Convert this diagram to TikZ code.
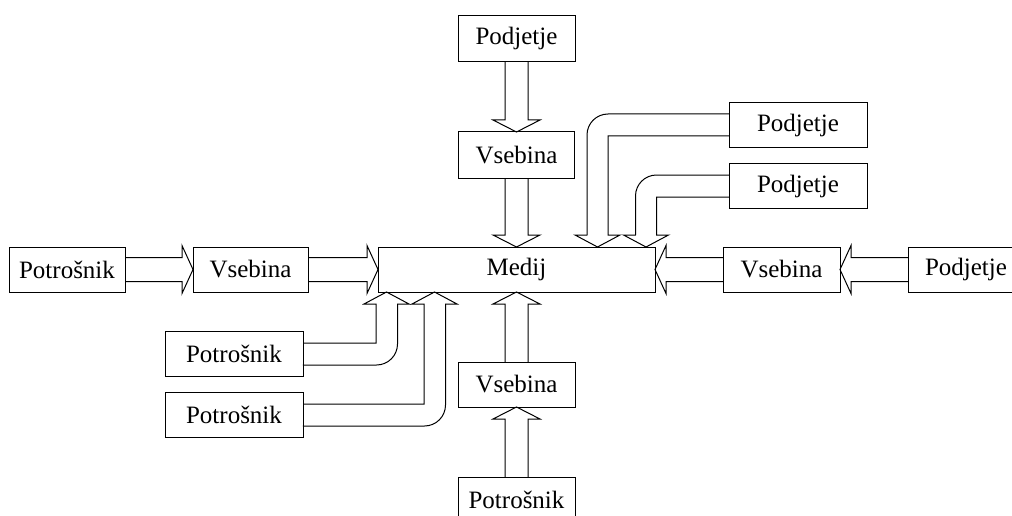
\documentclass[tikz,border=0pt]{standalone}
\usepackage{fontspec}
\setmainfont{Liberation Serif}
\usetikzlibrary{calc}
\tikzset{
  box/.style={draw, line width=1pt, fill=white, inner sep=0pt, outer sep=0pt,
    minimum height=46pt, font=\fontsize{25}{30}\selectfont},
  barrow/.style={draw, line width=1pt, line join=miter},
  bround/.style={draw, line width=1pt, line cap=round, rounded corners=21pt}
}
% straight block arrows: #1 source node, #2 target node
\newcommand\arrR[2]{\draw[barrow] ($(#1.east)+(0,-12)$) -- ($(#2.west)+(-11,-12)$) -- ($(#2.west)+(-11,-24)$) -- (#2.west) -- ($(#2.west)+(-11,24)$) -- ($(#2.west)+(-11,12)$) -- ($(#1.east)+(0,12)$);}
\newcommand\arrL[2]{\draw[barrow] ($(#1.west)+(0,-12)$) -- ($(#2.east)+(11,-12)$) -- ($(#2.east)+(11,-24)$) -- (#2.east) -- ($(#2.east)+(11,24)$) -- ($(#2.east)+(11,12)$) -- ($(#1.west)+(0,12)$);}
\newcommand\arrD[2]{\draw[barrow] ($(#1.south)+(-11.5,0)$) -- ($(#2.north)+(-11.5,-12)$) -- ($(#2.north)+(-23.5,-12)$) -- (#2.north) -- ($(#2.north)+(23.5,-12)$) -- ($(#2.north)+(11.5,-12)$) -- ($(#1.south)+(11.5,0)$);}
\newcommand\arrU[2]{\draw[barrow] ($(#1.north)+(-11.5,0)$) -- ($(#2.south)+(-11.5,12)$) -- ($(#2.south)+(-23.5,12)$) -- (#2.south) -- ($(#2.south)+(23.5,12)$) -- ($(#2.south)+(11.5,12)$) -- ($(#1.north)+(11.5,0)$);}
\begin{document}
\begin{tikzpicture}[x=1pt,y=-1pt]
\useasboundingbox (0,0) rectangle (1012,516);
\clip (0,0) rectangle (1012,516);
% nodes
\node[box, minimum width=117pt] (TP) at (516.5,38.5) {Podjetje};
\node[box, minimum width=116pt] (TV) at (516.5,155) {Vsebina};
\node[box, minimum width=277pt, minimum height=45pt] (M) at (516.5,269.5) {Medij};
\node[box, minimum width=116pt, minimum height=45pt] (LP) at (67,269.5) {Potrošnik};
\node[box, minimum width=115pt, minimum height=45pt] (LV) at (250.5,269.5) {Vsebina};
\node[box, minimum width=117pt, minimum height=45pt] (RV) at (781.5,269.5) {Vsebina};
\node[box, minimum width=116pt, minimum height=45pt] (RP) at (966,269.5) {Podjetje};
\node[box, minimum width=117pt, minimum height=45pt] (BV) at (516.5,384.5) {Vsebina};
\node[box, minimum width=117pt, minimum height=45pt] (BP) at (516.5,499.5) {Potrošnik};
\node[box, minimum width=138pt, minimum height=45pt] (P1) at (234,354) {Potrošnik};
\node[box, minimum width=138pt, minimum height=45pt] (P2) at (234,415) {Potrošnik};
\node[box, minimum width=138pt, minimum height=45pt] (Q1) at (798,125) {Podjetje};
\node[box, minimum width=138pt, minimum height=45pt] (Q2) at (798,186) {Podjetje};
% straight arrows
\arrR{LP}{LV}
\arrR{LV}{M}
\arrL{RP}{RV}
\arrL{RV}{M}
\arrD{TP}{TV}
\arrD{TV}{M}
\arrU{BV}{M}
\arrU{BP}{BV}
% bent arrows to the top of Medij
\coordinate (t1) at ($(M.north)+(81,0)$);
\coordinate (t2) at ($(M.north)+(129.5,0)$);
\draw[barrow] ($(Q1.west)+(0,11)$) -| ($(t1)+(10.5,-12)$) -- ($(t1)+(22.5,-12)$) -- (t1) -- ($(t1)+(-22.5,-12)$) -- ($(t1)+(-10.5,-12)$);
\draw[bround] ($(t1)+(-10.5,-12)$) |- ($(Q1.west)+(0,-11)$);
\draw[barrow] ($(Q2.west)+(0,11)$) -| ($(t2)+(10.5,-12)$) -- ($(t2)+(22.5,-12)$) -- (t2) -- ($(t2)+(-22.5,-12)$) -- ($(t2)+(-10.5,-12)$);
\draw[bround] ($(t2)+(-10.5,-12)$) |- ($(Q2.west)+(0,-11)$);
% bent arrows to the bottom of Medij
\coordinate (b1) at ($(M.south)+(-130,0)$);
\coordinate (b2) at ($(M.south)+(-82,0)$);
\draw[barrow] ($(P1.east)+(0,-11)$) -| ($(b1)+(-10.5,12)$) -- ($(b1)+(-22.5,12)$) -- (b1) -- ($(b1)+(22.5,12)$) -- ($(b1)+(11,12)$);
\draw[bround] ($(b1)+(11,12)$) |- ($(P1.east)+(0,11)$);
\draw[barrow] ($(P2.east)+(0,-11)$) -| ($(b2)+(-10.5,12)$) -- ($(b2)+(-22.5,12)$) -- (b2) -- ($(b2)+(22.5,12)$) -- ($(b2)+(11,12)$);
\draw[bround] ($(b2)+(11,12)$) |- ($(P2.east)+(0,11)$);
\end{tikzpicture}
\end{document}
